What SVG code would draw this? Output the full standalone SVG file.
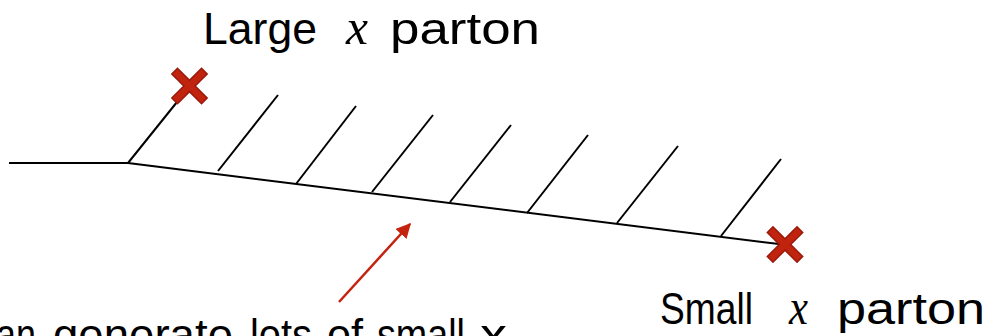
<svg xmlns="http://www.w3.org/2000/svg" width="990" height="336" viewBox="0 0 990 336">
  <style>
    .ln { stroke: #000; stroke-width: 2; fill: none; stroke-linecap: butt; }
    .arr { stroke: #C4230F; stroke-width: 2.5; fill: none; }
    .lbl { font-family: "Liberation Sans", Arial, sans-serif; font-size: 44px; fill: #000; }
    .mx { font-family: "Liberation Serif", "Times New Roman", serif; font-style: italic; font-size: 50px; }
    .cross { fill: #C0230E; stroke: #9C1A0B; stroke-width: 1.5; }
  </style>
  <defs>
    <path id="xmark" class="cross" d="M-4,-21 L4,-21 L4,-4 L21,-4 L21,4 L4,4 L4,21 L-4,21 L-4,4 L-21,4 L-21,-4 L-4,-4 Z" transform="rotate(45)"/>
    <marker id="ah" viewBox="0 0 10 10" refX="9" refY="5" markerWidth="6" markerHeight="6" orient="auto" markerUnits="strokeWidth">
      <path d="M0,0 L10,5 L0,10 Z" fill="#C4230F"/>
    </marker>
  </defs>
  <rect width="990" height="336" fill="#fff"/>
  <g id="connectors">
    <line class="ln" x1="9" y1="163" x2="128" y2="163"/>
    <line class="ln" x1="128" y1="163" x2="779" y2="244"/>
    <line class="ln" x1="128" y1="163" x2="177" y2="102"/>
    <line class="ln" x1="218" y1="171" x2="278" y2="95"/>
    <line class="ln" x1="296" y1="184" x2="356" y2="106"/>
    <line class="ln" x1="372" y1="192" x2="433" y2="115"/>
    <line class="ln" x1="450" y1="202" x2="511" y2="125"/>
    <line class="ln" x1="527" y1="213" x2="588" y2="135"/>
    <line class="ln" x1="617" y1="223" x2="678" y2="146"/>
    <line class="ln" x1="721" y1="236" x2="781" y2="159"/>
    <line class="arr" x1="339" y1="302" x2="410" y2="224" marker-end="url(#ah)"/>
  </g>
  <g id="large-x-mark" transform="translate(189.5,86)">
    <use href="#xmark"/>
  </g>
  <g id="small-x-mark" transform="translate(785,244.5)">
    <use href="#xmark"/>
  </g>
  <g id="large-x-label">
    <text class="lbl" y="44"><tspan x="203" textLength="114" lengthAdjust="spacingAndGlyphs">Large</tspan><tspan class="mx" x="346" textLength="22" lengthAdjust="spacingAndGlyphs">x</tspan><tspan x="390" textLength="150" lengthAdjust="spacingAndGlyphs">parton</tspan></text>
  </g>
  <g id="small-x-label">
    <text class="lbl" y="324"><tspan x="660" textLength="93" lengthAdjust="spacingAndGlyphs">Small</tspan><tspan class="mx" x="789" textLength="19" lengthAdjust="spacingAndGlyphs">x</tspan><tspan x="837" textLength="148" lengthAdjust="spacingAndGlyphs">parton</tspan></text>
  </g>
  <g id="small-x-generation-label">
    <text class="lbl" y="350"><tspan x="-30" textLength="66" lengthAdjust="spacingAndGlyphs">Can</tspan><tspan x="53" textLength="180" lengthAdjust="spacingAndGlyphs">generate</tspan><tspan x="250" textLength="62" lengthAdjust="spacingAndGlyphs">lots</tspan><tspan x="327" textLength="36" lengthAdjust="spacingAndGlyphs">of</tspan><tspan x="377" textLength="88" lengthAdjust="spacingAndGlyphs">small</tspan><tspan x="480" textLength="27" lengthAdjust="spacingAndGlyphs">x</tspan></text>
  </g>
</svg>
